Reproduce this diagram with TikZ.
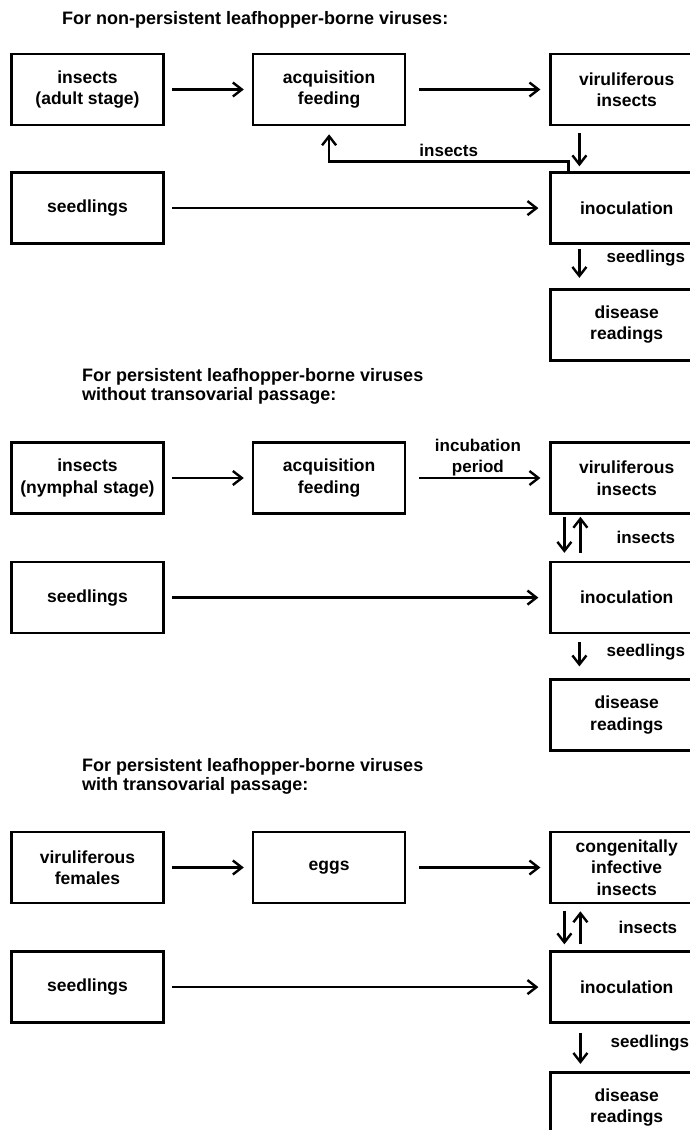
\documentclass[tikz,border=0pt]{standalone}
\usepackage{fontspec}
\setmainfont{Liberation Sans}
\usetikzlibrary{arrows.meta,positioning}

\begin{document}
\begin{tikzpicture}[
    x=1pt, y=-1pt,
    stagebox/.style={draw, line width=2.6pt, minimum width=152pt, minimum height=71pt, inner sep=2pt, align=center, font=\fontsize{17.5}{21.5}\selectfont\bfseries},
    arrow/.style={-{Straight Barb[length=9pt,width=14pt]}, line width=2.4pt},
    heading/.style={anchor=west, align=left, inner sep=0pt, font=\fontsize{18}{19}\selectfont\bfseries},
    lbl/.style={font=\fontsize{17}{21}\selectfont\bfseries, inner sep=1pt}
]
\useasboundingbox (0,0) rectangle (689,1130);

% non-persistent viruses
\node[heading] (t1) at (62,20) {For non-persistent leafhopper-borne viruses:};
\node[stagebox] (a1) at (87.5,89.5) {insects\\(adult stage)};
\node[stagebox, right=87pt of a1] (b1) {acquisition\\feeding};
\node[stagebox, right=143pt of b1] (c1) {viruliferous\\insects};
\node[stagebox, below=45pt of a1] (d1) {seedlings};
\node[stagebox, below=45pt of c1] (e1) {inoculation};
\node[stagebox, below=43pt of e1] (f1) {disease\\readings};

\draw[arrow, shorten <=7pt, shorten >=8pt] (a1) -- (b1);
\draw[arrow, shorten <=13pt, shorten >=9pt] (b1) -- (c1);
\draw[arrow, shorten <=7pt, shorten >=11pt] (d1) -- (e1);
\draw[arrow, shorten <=7pt, shorten >=5pt] ([xshift=30pt]c1.south west) -- ([xshift=30pt]e1.north west);
\draw[arrow, shorten >=8pt] ([xshift=19pt]e1.north west) -- ++(0,-10)
    -| node[lbl, pos=0.25, above=2pt] {insects} (b1.south);
\draw[arrow, shorten <=4pt, shorten >=10pt] ([xshift=30pt]e1.south west) -- ([xshift=30pt]f1.north west)
    node[lbl, pos=0.3, right=25pt] {seedlings};

% persistent, without transovarial passage
\node[heading] (t2) at (82,386) {For persistent leafhopper-borne viruses\\without transovarial passage:};
\node[stagebox] (a2) at (87.5,478) {insects\\(nymphal stage)};
\node[stagebox, right=87pt of a2] (b2) {acquisition\\feeding};
\node[stagebox, right=143pt of b2] (c2) {viruliferous\\insects};
\node[stagebox, below=46pt of a2] (d2) {seedlings};
\node[stagebox, below=46pt of c2] (e2) {inoculation};
\node[stagebox, below=44pt of e2] (f2) {disease\\readings};

\draw[arrow, shorten <=7pt, shorten >=8pt] (a2) -- (b2);
\draw[arrow, shorten <=13pt, shorten >=9pt] (b2) -- (c2)
    node[lbl, midway, above=0pt, align=center] {incubation\\period};
\draw[arrow, shorten <=7pt, shorten >=11pt] (d2) -- (e2);
\draw[arrow, shorten <=2pt, shorten >=8pt] ([xshift=15pt]c2.south west) -- ([xshift=15pt]e2.north west);
\draw[arrow, shorten <=8pt, shorten >=2pt] ([xshift=31pt]e2.north west) -- ([xshift=31pt]c2.south west)
    node[lbl, midway, right=34pt] {insects};
\draw[arrow, shorten <=8pt, shorten >=12pt] ([xshift=30pt]e2.south west) -- ([xshift=30pt]f2.north west)
    node[lbl, pos=0.4, right=25pt] {seedlings};

% persistent, with transovarial passage
\node[heading] (t3) at (82,776) {For persistent leafhopper-borne viruses\\with transovarial passage:};
\node[stagebox] (a3) at (87.5,867.5) {viruliferous\\females};
\node[stagebox, right=87pt of a3] (b3) {eggs};
\node[stagebox, right=143pt of b3] (c3) {congenitally\\infective\\insects};
\node[stagebox, below=46pt of a3] (d3) {seedlings};
\node[stagebox, below=46pt of c3] (e3) {inoculation};
\node[stagebox, below=47pt of e3] (f3) {disease\\readings};

\draw[arrow, shorten <=7pt, shorten >=8pt] (a3) -- (b3);
\draw[arrow, shorten <=13pt, shorten >=9pt] (b3) -- (c3);
\draw[arrow, shorten <=7pt, shorten >=11pt] (d3) -- (e3);
\draw[arrow, shorten <=7pt, shorten >=6pt] ([xshift=15pt]c3.south west) -- ([xshift=15pt]e3.north west);
\draw[arrow, shorten <=6pt, shorten >=7pt] ([xshift=31pt]e3.north west) -- ([xshift=31pt]c3.south west)
    node[lbl, midway, right=36pt] {insects};
\draw[arrow, shorten <=9pt, shorten >=7pt] ([xshift=31pt]e3.south west) -- ([xshift=31pt]f3.north west)
    node[lbl, pos=0.4, right=28pt] {seedlings};

\end{tikzpicture}
\end{document}
